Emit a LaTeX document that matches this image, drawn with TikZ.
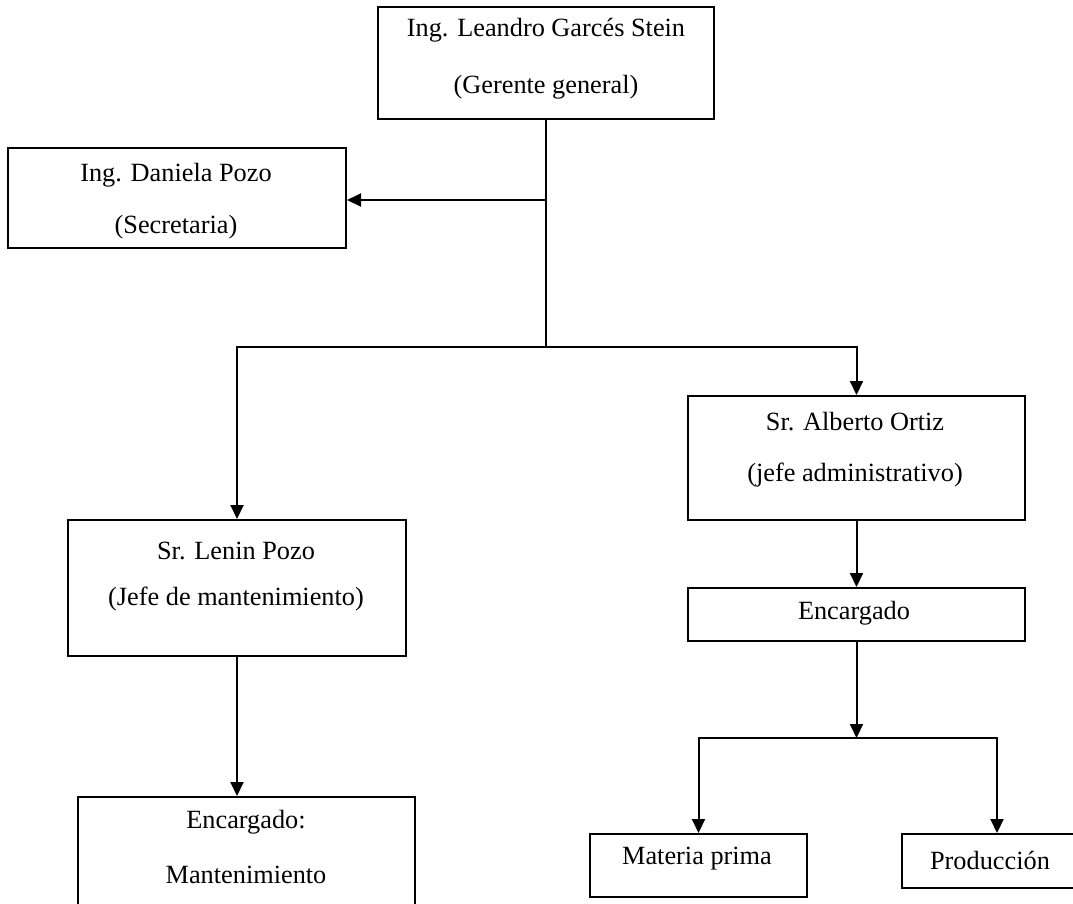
\documentclass[tikz,border=0pt]{standalone}
\usepackage{fontspec}
\setmainfont{Liberation Serif}
\usetikzlibrary{arrows.meta}
\begin{document}
\begin{tikzpicture}[x=1pt,y=-1pt,
  box/.style={draw, line width=2pt, inner sep=0pt},
  lbl/.style={font=\fontsize{26.3}{30}\selectfont, inner sep=0pt},
  link/.style={line width=2pt},
  arr/.style={link, -{Triangle[length=14pt,width=13pt]}}]
\useasboundingbox (0,0) rectangle (1073,903);
\clip (0,0) rectangle (1073,903);

% boxes
\node[box, minimum width=336pt, minimum height=112pt] (T)  at (546,63)     {};
\node[box, minimum width=338pt, minimum height=100pt] (D)  at (177,198)    {};
\node[box, minimum width=337pt, minimum height=124pt] (A)  at (856.5,458)  {};
\node[box, minimum width=338pt, minimum height=136pt] (L)  at (237,588)    {};
\node[box, minimum width=337pt, minimum height=53pt]  (E)  at (856.5,614.5){};
\node[box, minimum width=337pt, minimum height=118pt] (M)  at (246.5,856)  {};
\node[box, minimum width=217pt, minimum height=63pt]  (MP) at (698.5,865.5){};
\node[box, minimum width=174pt, minimum height=54pt]  (P)  at (989,861)    {};

% texts
\node[lbl] (T1)  at (546,30)  {Ing. Leandro Garcés Stein};
\node[lbl] (T2)  at (546,87)  {(Gerente general)};
\node[lbl] (D1)  at (176,175) {Ing. Daniela Pozo};
\node[lbl] (D2)  at (176,227) {(Secretaria)};
\node[lbl] (A1)  at (855,422) {Sr. Alberto Ortiz};
\node[lbl] (A2)  at (855,475) {(jefe administrativo)};
\node[lbl] (L1)  at (236,551) {Sr. Lenin Pozo};
\node[lbl] (L2)  at (236,599) {(Jefe de mantenimiento)};
\node[lbl] (E1)  at (854,613) {Encargado};
\node[lbl] (M1)  at (246,822) {Encargado:};
\node[lbl] (M2)  at (246,875) {Mantenimiento};
\node[lbl] (MP1) at (697,859) {Materia prima};
\node[lbl] (P1)  at (990,860) {Producción};

% connectors
\coordinate (S)  at (546,200);
\coordinate (J1) at (546,347);
\coordinate (J2) at (856.5,738);
\draw[link] (T.south) -- (J1);
\draw[arr] (S) -- (S -| D.east);
\draw[arr] (J1) -| (L.north);
\draw[arr] (J1) -| (A.north);
\draw[arr] (A.south) -- (E.north);
\draw[arr] (L.south) -- (L.south |- M.north);
\draw[arr] (E.south) -- (J2);
\draw[arr] (J2) -| (MP.north);
\draw[arr] (J2) -| ([xshift=8pt]P.north);
\end{tikzpicture}
\end{document}
